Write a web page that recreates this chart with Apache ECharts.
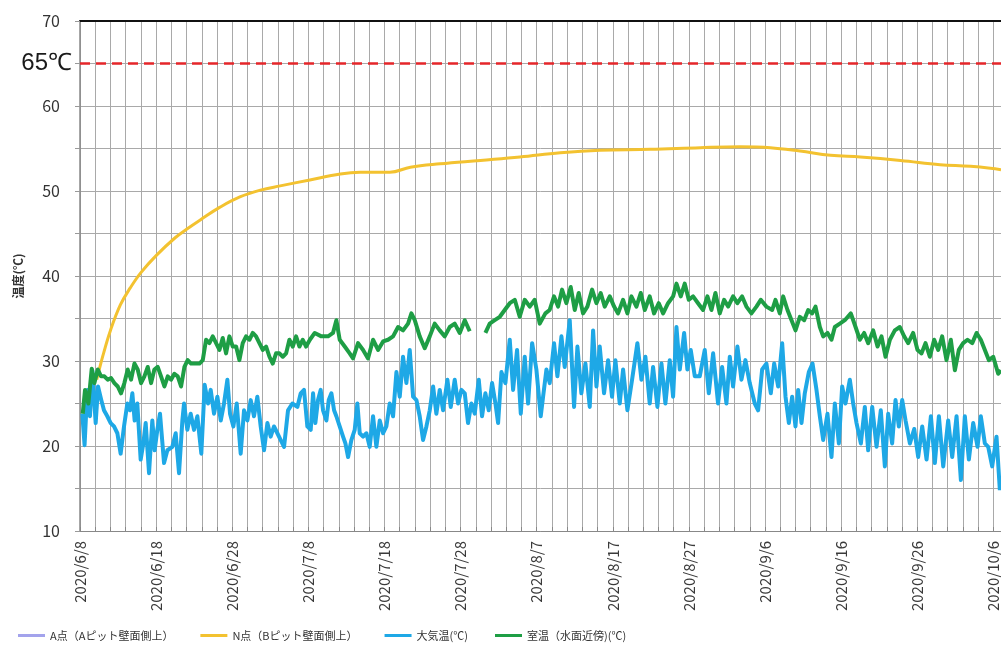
<!DOCTYPE html>
<html>
<head>
<meta charset="utf-8">
<script src="https://cdn.jsdelivr.net/npm/echarts@6/dist/echarts.min.js"></script>
<style>
html,body{margin:0;padding:0;background:#fff;}
#chart{width:1001px;height:670px;}
</style>
</head>
<body>
<div id="chart"></div>
<script>
// x values are days since 2020/6/8
const dateLabels = ['2020/6/8','2020/6/18','2020/6/28','2020/7/8','2020/7/18','2020/7/28','2020/8/7','2020/8/17','2020/8/27','2020/9/6','2020/9/16','2020/9/26','2020/10/6'];
const seriesNames = ['A点（Aピット壁面側上）','N点（Bピット壁面側上）','大気温(℃)','室温（水面近傍)(℃)'];
const limitValue = 65;

const aPoint = [];

const nPoint = [[2.2,27.8],[3,30.6],[4,33.6],[5.3,36.6],[6.6,38.6],[8,40.4],[10,42.4],[12.5,44.5],[14,45.5],[15.8,46.6],[18.4,48.1],[21,49.3],[23.7,50.1],[26.3,50.6],[30.2,51.3],[34.2,52],[36.8,52.2],[40.7,52.2],[43.4,52.8],[47.3,53.2],[52.6,53.6],[57.8,54],[63.1,54.5],[68.3,54.8],[74.9,54.9],[81.5,55.1],[86.7,55.2],[90.7,55.1],[94.6,54.7],[98.6,54.2],[102.5,54],[107.8,53.6],[113,53.1],[117,52.9],[121,52.5]];

const airTemp = [[0.3,23.8],[0.6,20.1],[0.96,26.6],[1.31,23.5],[1.62,28.9],[2.06,22.7],[2.37,27],[2.8,25.4],[3.15,24.2],[3.59,23.5],[4.03,22.7],[4.47,22.3],[4.91,21.5],[5.34,19.1],[5.78,22.3],[6.22,25],[6.57,24.2],[6.88,26.2],[7.18,23],[7.53,25],[7.97,18.4],[8.32,20.3],[8.63,22.7],[9.07,16.8],[9.5,23],[9.81,19.5],[10.16,21.9],[10.51,23.8],[11.04,18],[11.48,19.5],[12.13,19.9],[12.57,21.5],[13.01,16.8],[13.45,23],[13.67,25],[14.1,21.9],[14.54,23.8],[14.98,21.9],[15.42,23.5],[15.94,19.1],[16.38,27.2],[16.82,25],[17.17,26.6],[17.61,23.8],[18.05,25.8],[18.49,23],[18.92,25],[19.36,27.8],[19.71,23.8],[20.15,22.3],[20.59,25],[21.11,19.1],[21.55,24.2],[21.99,23],[22.43,25.4],[22.86,23.5],[23.3,25.8],[23.74,22.3],[24.18,19.5],[24.62,22.7],[25.05,21.1],[25.49,22.3],[25.93,21.5],[26.37,20.7],[26.81,19.9],[27.33,24.2],[27.9,25],[28.56,24.6],[29,26.2],[29.43,26.6],[29.87,22.3],
[30.31,21.9],[30.62,26.2],[30.92,22.7],[31.27,25.4],[31.62,26.6],[31.93,24.2],[32.37,23],[32.68,25.4],[33.03,26.2],[33.38,24.2],[33.68,23.5],[34.12,22.3],[34.56,21.1],[34.87,20.3],[35.22,18.7],[35.65,20.7],[36.09,21.9],[36.44,25],[36.75,21.5],[37.19,21.1],[37.63,21.5],[38.06,19.9],[38.5,23.5],[38.94,19.9],[39.38,23],[39.82,21.5],[40.25,22.3],[40.69,25],[41.13,23.5],[41.57,28.7],[42.01,25.8],[42.44,30.5],[42.88,27.4],[43.32,31.3],[43.76,25.8],[44.2,25.4],[44.63,23.5],[45.07,20.7],[45.51,22.3],[45.95,24.2],[46.39,27],[46.82,23.8],[47.26,26.6],[47.7,24.2],[48.27,27.8],[48.71,24.6],[49.23,27.8],[49.67,25],[50.11,26.6],[50.55,26.2],[50.98,22.7],[51.42,25],[51.86,23.8],[52.39,27.8],[52.82,23.5],[53.26,26.2],[53.7,24.2],[54.14,27.4],[54.58,25],[54.93,22.7],[55.37,28.7],[55.89,27.4],[56.46,32.5],[56.9,26.6],[57.42,31.3],[57.91,23.8],[58.43,30.5],[58.87,25],[59.4,32.1],[59.96,29],[60.53,23.5],
[60.84,25.8],[61.28,29],[61.71,27.4],[62.28,32.1],[62.72,28.2],[63.25,32.9],[63.68,29.3],[64.34,34.8],[64.91,24.6],[65.35,31.7],[65.87,26.2],[66.4,29.7],[66.97,24.6],[67.41,33.6],[67.85,27],[68.28,31.7],[68.85,26.2],[69.38,30.1],[69.9,25.8],[70.34,30.1],[70.91,25],[71.35,29],[71.92,24.2],[72.53,27.8],[73.23,32.1],[73.76,27.8],[74.28,30.5],[74.85,25],[75.29,29.3],[75.86,24.6],[76.39,29.7],[76.91,25],[77.48,30.1],[77.92,25.8],[78.36,34],[78.8,29],[79.37,33.3],[79.8,29],[80.24,31.3],[80.77,28.2],[81.42,28.2],[82.08,31.3],[82.61,26.2],[83.18,30.9],[83.83,25],[84.36,29.3],[84.93,25],[85.37,30.5],[85.8,27],[86.37,31.7],[86.9,27.8],[87.42,30.1],[87.99,27.4],[88.65,25],[89.09,24.2],[89.62,29],[90.18,29.7],
[90.76,26.2],[91.2,29.7],[91.72,27],[92.25,32.1],[92.69,25.8],[93.13,22.7],[93.56,25.8],[94,22.3],[94.35,26.6],[94.79,22.7],[95.22,26.2],[95.75,28.7],[96.24,29.7],[96.76,26.6],[97.2,23.5],[97.64,20.7],[98.2,23.8],[98.73,18.7],[99.17,25],[99.7,20.3],[100.13,27],[100.57,25],[101.14,27.8],[101.58,25],[102.02,22.7],[102.59,20.3],[103.11,24.6],[103.55,19.5],[104.08,24.6],[104.65,19.9],[105.21,24.2],[105.74,17.6],[106.18,23.8],[106.7,20.3],[107.14,25.4],[107.58,22.3],[108.02,25.4],[108.46,23],[109.03,20.3],[109.6,22],[110.12,18.7],[110.65,22.3],[111.22,18.4],[111.79,23.5],[112.31,18],[112.84,23.5],[113.41,17.6],[114.06,23],[114.59,18.7],[115.16,23.5],[115.73,16],[116.25,23.5],[116.78,18.4],[117.35,22.7],[117.92,19.9],[118.35,23.5],[118.88,20.3],[119.32,19.9],[119.84,17.6],[120.41,21.1],[120.85,14.8]];

const roomTemp = [[0.36,23.8],[0.66,26.6],[1.1,25],[1.54,29.1],[1.89,27.4],[2.33,29],[2.77,28.2],[3.2,28.2],[3.64,27.8],[4.08,28],[4.52,27.4],[4.96,27],[5.39,26.2],[5.83,27.4],[6.27,29],[6.71,27.8],[7.15,29.7],[7.58,29],[8.02,27.4],[8.46,28.2],[8.9,29.3],[9.34,27.4],[9.77,29],[10.21,29.3],[10.65,28.2],[11.09,27],[11.53,28.2],[11.96,27.8],[12.4,28.5],[12.84,28.2],[13.28,27],[13.72,29.3],[14.15,30.1],[14.59,29.7],[15.25,29.7],[15.69,29.7],[16.13,30.1],[16.56,32.5],[17,32.1],[17.44,32.9],[17.88,32.1],[18.32,31.3],[18.75,32.7],[19.19,30.9],[19.63,32.9],[20.07,31.7],[20.51,31.7],[20.94,30.1],[21.38,32.1],[21.82,32.9],[22.26,32.5],[22.7,33.3],[23.13,32.9],[23.57,32.1],[24.01,31.3],[24.45,31.7],[24.89,30.5],[25.32,29.7],[25.76,30.9],[26.2,30.9],[26.64,30.5],[27.08,30.9],[27.51,32.5],[27.95,31.7],[28.39,32.9],[28.83,31.7],[29.27,32.5],[29.7,31.7],
[30.2,32.5],[30.84,33.3],[31.71,32.9],[32.59,32.9],[33.24,33.3],[33.68,34.8],[34.12,32.5],[34.78,31.7],[35.43,30.9],[35.87,30.3],[36.53,32.1],[37.19,31.3],[37.84,30.3],[38.5,32.5],[39.16,31.3],[39.82,32.3],[40.47,32.5],[41.13,32.9],[41.79,34],[42.44,33.6],[43.1,34.4],[43.54,35.6],[43.98,34.8],[44.63,32.9],[45.29,31.5],[45.95,32.9],[46.6,34.4],[47.26,33.6],[47.92,32.9],[48.58,34],[49.23,34.4],[49.89,33.3],[50.55,34.8],[51.2,33.5],[51.8,'-'],[53.26,33.3],[53.83,34.4],[54.49,34.8],[55.15,35.2],[55.8,36],[56.46,36.8],[57.12,37.2],[57.77,35.2],[58.43,37.2],[59.09,36.4],[59.74,37.2],[60.4,34.4],
[61.14,35.6],[61.7,36],[62.28,37.6],[62.81,36.4],[63.33,38.4],[63.9,36.8],[64.47,38.7],[65,36],[65.52,38],[66.09,35.6],[66.66,36.4],[67.28,38.4],[67.85,36.8],[68.41,38],[68.94,36.4],[69.6,37.6],[70.17,36.4],[70.69,35.6],[71.35,37.2],[71.92,35.6],[72.44,37.6],[73.1,36.4],[73.67,38],[74.2,36],[74.85,37.6],[75.42,35.6],[76.04,36.8],[76.61,35.6],[77.26,36.8],[77.92,37.6],[78.36,39.1],[78.93,37.6],[79.45,39.1],[79.98,37.2],[80.55,37.6],[81.2,36.8],[81.86,36],[82.43,37.6],[82.96,36],[83.48,38],[84.05,35.6],[84.62,37.2],[85.15,36.4],[85.8,37.6],[86.37,36.8],[86.99,37.6],[87.55,36.4],[88.21,35.6],[88.87,36.4],[89.44,37.2],[90.18,36.4],
[90.94,36],[91.37,37.2],[91.94,35.6],[92.38,37.6],[92.95,36],[93.48,34.8],[94,33.6],[94.57,35.2],[95.14,34.8],[95.67,36],[96.19,35.6],[96.63,36.4],[97.2,34],[97.64,32.9],[98.21,33.3],[98.73,32.5],[99.17,34],[99.83,34.4],[100.48,34.8],[101.27,35.6],[101.89,34],[102.46,32.5],[103.02,33.3],[103.55,32.1],[104.21,33.6],[104.78,31.7],[105.3,32.9],[105.83,30.5],[106.4,32.5],[107.05,33.6],[107.71,34],[108.28,32.9],[108.81,32.1],[109.46,33.3],[110.03,31.3],[110.56,30.9],[111.08,32.1],[111.65,30.5],[112.22,32.5],[112.75,31.3],[113.27,32.9],[113.84,30.1],[114.41,32.5],[114.94,28.9],[115.46,31.3],[116.03,32.1],[116.6,32.5],[117.22,32.1],[117.79,33.3],[118.35,32.5],[118.88,31.3],[119.41,30.1],[119.98,30.5],[120.63,28.5],[121,28.9]];

const colors = ['#a3a3ec','#f3c230','#1ea8e6','#1e9e45'];

const chart = echarts.init(document.getElementById('chart'), null, {renderer:'canvas'});
const font = "'Noto Sans CJK JP', 'Liberation Sans', sans-serif";
chart.setOption({
  animation:false,
  backgroundColor:'#fff',
  textStyle:{fontFamily:font},
  color:colors,
  grid:{left:80, top:21, right:0, bottom:139},
  legend:{
    left:13, top:625, itemWidth:27, itemHeight:3, itemGap:27, icon:'rect',
    textStyle:{fontSize:11, color:'#333', fontFamily:font},
    data:seriesNames
  },
  xAxis:[{
    type:'value', min:0, max:121, interval:2,
    axisLine:{show:true, lineStyle:{color:'#888', width:1}},
    axisTick:{show:true, length:4, inside:true, lineStyle:{color:'#888'}},
    splitLine:{show:true, lineStyle:{color:'#a9a9a9', width:1}},
    axisLabel:{
      rotate:90, margin:10, fontSize:15, color:'#3a3a3a', fontFamily:font,
      showMaxLabel:false,
      formatter:function(v){ return (v % 10 === 0) ? (dateLabels[v/10] || '') : ''; }
    }
  },{
    type:'value', min:0, max:121, position:'top',
    axisLine:{show:true, lineStyle:{color:'#111', width:2}},
    axisTick:{show:false}, axisLabel:{show:false}, splitLine:{show:false}
  }],
  yAxis:{
    type:'value', min:10, max:70, interval:5,
    name:'温度(℃)', nameLocation:'middle', nameGap:56,
    nameTextStyle:{fontSize:12, fontWeight:'bold', color:'#333', fontFamily:font},
    axisLine:{show:true, lineStyle:{color:'#888', width:1.5}},
    axisTick:{show:true, length:5, lineStyle:{color:'#999'}},
    splitLine:{show:true, lineStyle:{color:'#a9a9a9', width:1}},
    axisLabel:{
      margin:20, fontSize:16, color:'#333', fontFamily:font,
      formatter:function(v){ return (v % 10 === 0) ? String(v) : ''; }
    }
  },
  series:[
    {name:seriesNames[0], type:'line', data:aPoint, showSymbol:false, lineStyle:{width:3, color:colors[0]}, itemStyle:{color:colors[0]}},
    {name:seriesNames[1], type:'line', data:nPoint, showSymbol:false, smooth:0.4, lineStyle:{width:3, color:colors[1]}, itemStyle:{color:colors[1]},
      markLine:{
        silent:true, symbol:['none','none'],
        lineStyle:{type:[10,6], color:'#e5262a', width:2.5},
        label:{show:true, position:'start', distance:8, formatter:limitValue + '℃', fontSize:24, color:'#1a1a1a', fontFamily:"'Liberation Sans', sans-serif"},
        data:[{yAxis:limitValue}]
      }
    },
    {name:seriesNames[2], type:'line', data:airTemp, showSymbol:false, lineStyle:{width:4, color:colors[2], join:'round'}, itemStyle:{color:colors[2]}},
    {name:seriesNames[3], type:'line', data:roomTemp, showSymbol:false, connectNulls:false, lineStyle:{width:4, color:colors[3], join:'round'}, itemStyle:{color:colors[3]}}
  ]
});
</script>
</body>
</html>
